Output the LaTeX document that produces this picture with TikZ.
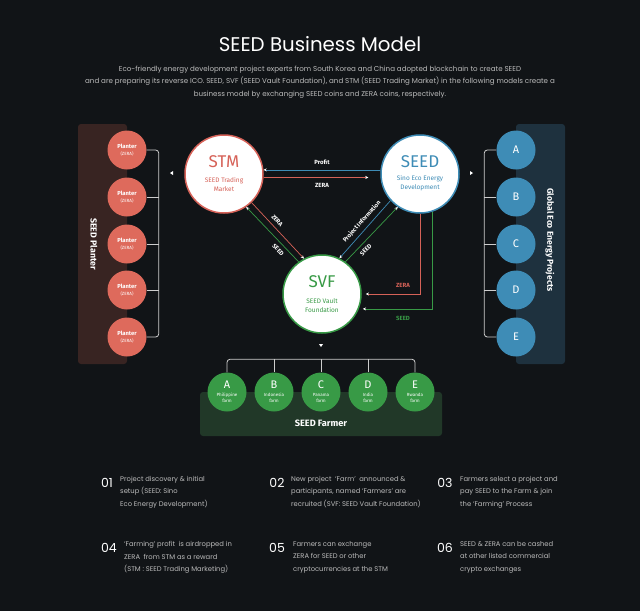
\documentclass[tikz,border=0pt]{standalone}
\usepackage{fontspec}
\setmainfont{Poppins}
\newfontfamily\labelfont{Fira Sans}
\usetikzlibrary{positioning,arrows.meta}

\definecolor{bgdark}{RGB}{17,20,23}
\definecolor{planterred}{RGB}{222,106,92}
\definecolor{stmred}{RGB}{214,98,88}
\definecolor{seedblue}{RGB}{62,140,182}
\definecolor{farmgreen}{RGB}{56,154,70}
\definecolor{planterpanel}{RGB}{56,36,34}
\definecolor{projpanel}{RGB}{30,49,62}
\definecolor{farmpanel}{RGB}{33,56,40}
\definecolor{greytext}{RGB}{188,188,188}
\definecolor{linegrey}{RGB}{205,205,205}

\begin{document}
\begin{tikzpicture}[x=1pt,y=-1pt,>={Stealth[length=3.2pt,width=3pt,color=white]},
  hub/.style={circle,fill=white,line width=1.5pt,minimum size=78pt,inner sep=0pt},
  dot/.style={circle,minimum size=39pt,inner sep=0pt,text=white},
  panel/.style={rounded corners=3pt},
  flow/.style={line width=0.7pt,->},
  tag/.style={text=white,font=\labelfont\bfseries\fontsize{6}{6}\selectfont,inner sep=1pt},
  bracket/.style={draw=linegrey,line width=0.8pt,rounded corners=3pt},
  stepnum/.style={text=white,font=\fontsize{12.5}{12.5}\selectfont},
  steptext/.style={anchor=north west,align=left,text=greytext,inner sep=0pt,
    font=\fontsize{6.8}{12.6}\selectfont}]

\fill[bgdark] (0,0) rectangle (640,611);
\useasboundingbox (0,0) rectangle (640,611);

% heading
\node[text=white,font=\fontsize{19.8}{20}\selectfont] (title) at (320,44) {SEED Business Model};
\node[text=greytext,align=center,font=\fontsize{7.1}{12.3}\selectfont] (intro) at (320,82)
  {Eco-friendly energy development project experts from South Korea and China adopted blockchain to create SEED\\
   and are preparing its reverse ICO. SEED, SVF (SEED Vault Foundation), and STM (SEED Trading Market) in the following models create a\\
   business model by exchanging SEED coins and ZERA coins, respectively.};

% side panels
\fill[planterpanel,panel] (78,124) rectangle (127,364);
\fill[projpanel,panel] (516,124) rectangle (565,364);
\fill[farmpanel,panel] (200,392) rectangle (442,436);
\node[rotate=-90,text=white,font=\labelfont\bfseries\fontsize{8.8}{9}\selectfont] (plantertag) at (94,244) {SEED Planter};
\node[rotate=-90,text=white,font=\labelfont\bfseries\fontsize{8.6}{9}\selectfont] (projtag) at (550,240) {Global Eco Energy Projects};
\node[text=white,font=\labelfont\bfseries\fontsize{9.2}{9}\selectfont] (farmtag) at (321,423) {SEED Farmer};

% planters and projects
\foreach \y [count=\i] in {150,197,244,290,337}{
  \node[dot,fill=planterred] (P\i) at (127,\y) {};
  \node[text=white,font=\labelfont\bfseries\fontsize{5.8}{6}\selectfont,inner sep=0pt] (Pa\i) at (127,\y-4) {Planter};
  \node[text=white,font=\labelfont\fontsize{4.5}{5}\selectfont,inner sep=0pt] (Pb\i) at (127,\y+4) {(ZERA)};
}
\foreach \y/\lt [count=\i] in {150/A,197/B,244/C,290/D,337/E}{
  \node[dot,fill=seedblue,font=\labelfont\fontsize{11}{11}\selectfont] (G\i) at (516,\y) {\lt};
}
\draw[bracket] (P1.east) -- ++(12,0) |- (P5.east);
\draw[bracket] (G1.west) -- ++(-12,0) |- (G5.west);
\foreach \i in {2,3,4}{
  \draw[bracket] (P\i.east) -- ++(12,0);
  \draw[bracket] (G\i.west) -- ++(-12,0);
}

% farms
\foreach \x/\lt/\nm [count=\i] in {227/A/Philippine,274/B/Indonesia,321/C/Panama,368/D/India,415/E/Rwanda}{
  \node[dot,fill=farmgreen] (F\i) at (\x,392) {};
  \node[text=white,font=\labelfont\fontsize{11}{11}\selectfont,inner sep=0pt] (Fa\i) at (\x,385) {\lt};
  \node[text=white,align=center,font=\labelfont\fontsize{4.5}{5.8}\selectfont,inner sep=0pt] (Fb\i) at (\x,398) {\nm\\farm};
}
\draw[bracket] (F1.north) -- ++(0,-13) -| (F5.north);
\foreach \i in {2,3,4}
  \draw[bracket] (F\i.north) -- ++(0,-13);

% the three hubs
\node[hub,draw=stmred] (stm) at (224,174) {};
\node[hub,draw=seedblue] (seed) at (420,174) {};
\node[hub,draw=farmgreen] (svf) at (322,294) {};
\node[text=stmred,font=\labelfont\fontsize{17}{17}\selectfont] (stmname) at (224,162) {STM};
\node[text=stmred,align=center,font=\labelfont\fontsize{6.5}{9}\selectfont] (stmsub) at (224,184) {SEED Trading\\Market};
\node[text=seedblue,font=\labelfont\fontsize{17}{17}\selectfont] (seedname) at (420,162) {SEED};
\node[text=seedblue,align=center,font=\labelfont\fontsize{6.5}{9}\selectfont] (seedsub) at (420,183) {Sino Eco Energy\\Development};
\node[text=farmgreen,font=\labelfont\fontsize{17}{17}\selectfont] (svfname) at (322,282) {SVF};
\node[text=farmgreen,align=center,font=\labelfont\fontsize{6.5}{9}\selectfont] (svfsub) at (322,306) {SEED Vault\\Foundation};

% flows between hubs
\draw[flow,seedblue] (seed.174) -- (stm.6) node[tag,midway,above=4pt] (profit) {Profit};
\draw[flow,stmred,shorten >=12pt] (stm.-5) -- (seed.185) node[tag,midway,below=5pt] (zera1) {ZERA};
\draw[flow,stmred] (stm.-46) -- (svf.117) node[tag,pos=0.4,sloped,above=3pt] (zera2) {ZERA};
\draw[flow,farmgreen] (svf.126) -- (stm.-56) node[tag,pos=0.3,sloped,below=3pt] (seed2) {SEED};
\draw[flow,seedblue] (seed.222) -- (svf.64) node[tag,pos=0.45,sloped,above=3pt] (info) {Project Information};
\draw[flow,farmgreen] (svf.54) -- (seed.236) node[tag,pos=0.3,sloped,below=3pt] (seed3) {SEED};
\draw[flow,stmred,shorten >=4pt] (seed.south) |- (svf.east);
\draw[flow,farmgreen,shorten >=4pt] (seed.-72) |- (svf.-22);
\node[tag,text=stmred] (zera4) at (403,285) {ZERA};
\node[tag,text=farmgreen] (seed4) at (403,318) {SEED};

% small pointers
\fill[white] (170,173) -- ++(3,-2) -- ++(0,4) -- cycle;
\fill[white] (473,173) -- ++(-3,-2) -- ++(0,4) -- cycle;
\fill[white] (321,347) -- ++(-2,-3) -- ++(4,0) -- cycle;

% steps
\node[stepnum] (n1) at (107,483) {01};
\node[steptext] (t1) at (120,476) {Project discovery \& initial\\setup (SEED: Sino\\Eco Energy Development)};
\node[stepnum] (n2) at (277,483) {02};
\node[steptext] (t2) at (291,476) {New project \ `Farm' \ announced \&\\participants, named `Farmers' are\\recruited (SVF: SEED Vault Foundation)};
\node[stepnum] (n3) at (445,483) {03};
\node[steptext] (t3) at (460,476) {Farmers select a project and\\pay SEED to the Farm \& join\\the `Farming' Process};
\node[stepnum] (n4) at (109,548) {04};
\node[steptext] (t4) at (124,541) {`Farming' profit \ is airdropped in\\ZERA \ from STM as a reward\\(STM : SEED Trading Marketing)};
\node[stepnum] (n5) at (277,548) {05};
\node[steptext] (t5) at (293,541) {Farmers can exchange\\ZERA for SEED or other\\cryptocurrencies at the STM};
\node[stepnum] (n6) at (445,548) {06};
\node[steptext] (t6) at (460,541) {SEED \& ZERA can be cashed\\at other listed commercial\\crypto exchanges};
\end{tikzpicture}
\end{document}
